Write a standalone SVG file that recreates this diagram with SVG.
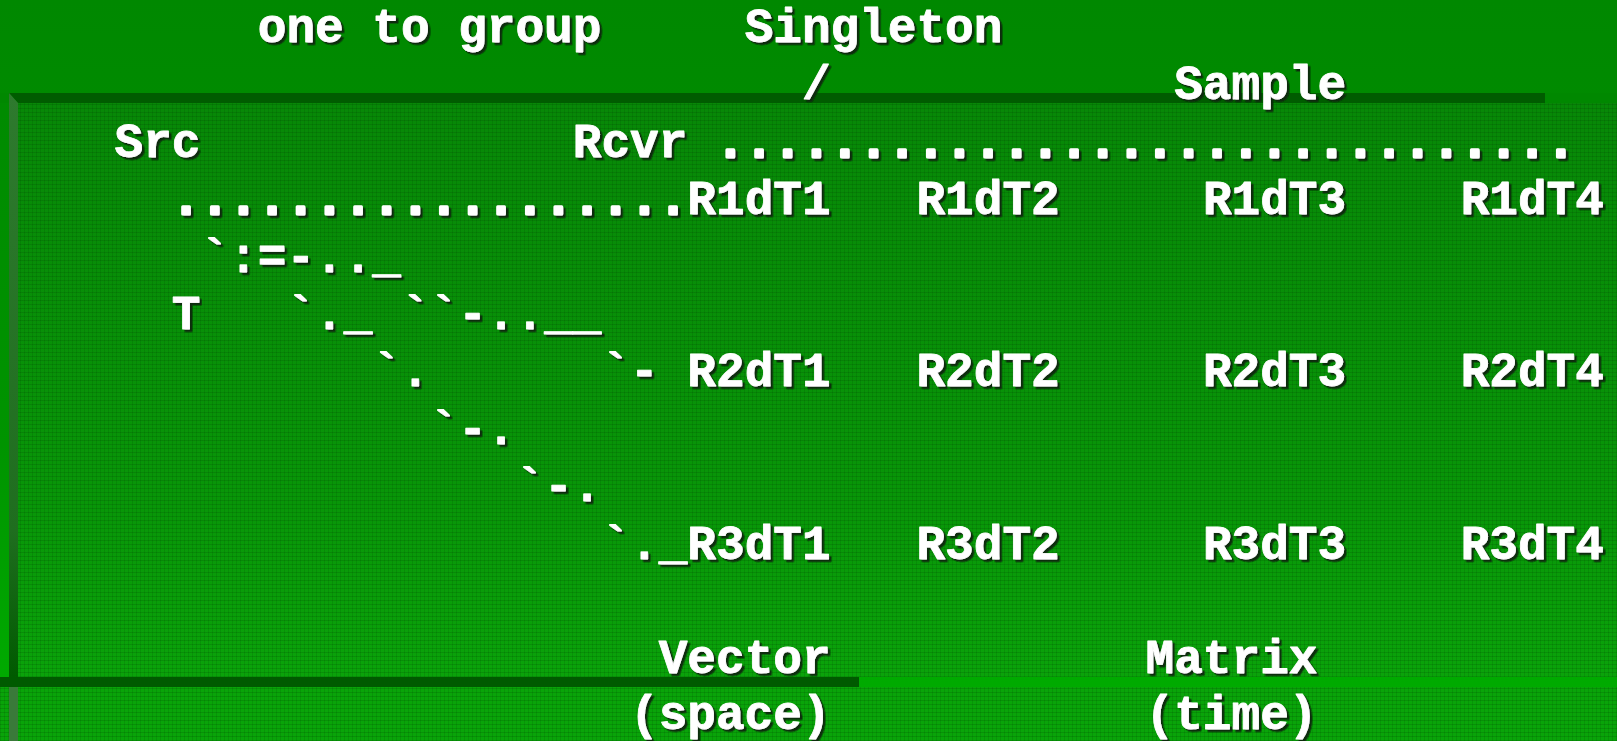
<svg xmlns="http://www.w3.org/2000/svg" width="1617" height="741" viewBox="0 0 1617 741">
<defs>
<linearGradient id="bgGrad" x1="0" y1="0" x2="0" y2="1">
<stop offset="0" stop-color="#008800"/>
<stop offset="0.6" stop-color="#009400"/>
<stop offset="1" stop-color="#00b000"/>
</linearGradient>
<linearGradient id="panelGrad" x1="0" y1="0" x2="0" y2="1">
<stop offset="0" stop-color="#078807"/>
<stop offset="0.7" stop-color="#089608"/>
<stop offset="1" stop-color="#0aa30a"/>
</linearGradient>
<linearGradient id="leftGrad" x1="0" y1="0" x2="0" y2="1">
<stop offset="0" stop-color="#2e7a2e"/>
<stop offset="0.75" stop-color="#1f6e1f"/>
<stop offset="1" stop-color="#005a00"/>
</linearGradient>
<pattern id="tex" width="4" height="4" patternUnits="userSpaceOnUse">
<rect x="0" y="0" width="4" height="1" fill="#003c00" fill-opacity="0.18"/>
<rect x="0" y="0" width="1" height="4" fill="#003c00" fill-opacity="0.14"/>
</pattern>
<filter id="sh" x="-5%" y="-20%" width="110%" height="140%">
<feDropShadow dx="2.5" dy="2.5" stdDeviation="0.4" flood-color="#0a260a" flood-opacity="0.95"/>
</filter>
</defs>
<style>
text{font-family:"Liberation Mono","Courier New",monospace;font-weight:bold;font-size:47.73px;fill:#ffffff;stroke:#ffffff;stroke-width:0.8;stroke-linejoin:round;filter:url(#sh);white-space:pre}
text.dots{stroke-width:3}
</style>
<g id="background">
<rect x="0" y="0" width="1617" height="741" fill="url(#bgGrad)"/>
<rect x="18" y="103" width="1599" height="574" fill="url(#panelGrad)"/>
<rect x="18" y="103" width="1599" height="574" fill="url(#tex)"/>
<rect x="0" y="687" width="1617" height="54" fill="#09a409"/>
<rect x="0" y="687" width="1617" height="54" fill="url(#tex)"/>
<rect x="0" y="93" width="1617" height="10" fill="#008800"/>
<polygon points="9,93 1545,93 1545,103 18,103" fill="#005c00"/>
<polygon points="9,93 18,103 18,677 9,677" fill="url(#leftGrad)"/>
<rect x="9" y="687" width="9" height="54" fill="#3a7a3a"/>
<rect x="0" y="677" width="859" height="10" fill="#005a00"/>
</g>
<g id="titles">
<text x="257.76" y="42">one to group</text>
<text x="744.64" y="42">Singleton</text>
<text x="801.92" y="99.4">/</text>
<text x="1174.24" y="99.4">Sample</text>
</g>
<g id="connectors">
<text class="dots" x="716" y="156.8">..............................</text>
<text class="dots" x="171.84" y="214.2">..................</text>
<text x="200.48" y="271.6">`:=-.._</text>
<text x="286.4" y="329">`._</text>
<text x="400.96" y="329">``-..__</text>
<text x="372.32" y="386.4">`.</text>
<text x="601.44" y="386.4">`-</text>
<text x="429.6" y="443.8">`-.</text>
<text x="515.52" y="501.2">`-.</text>
<text x="601.44" y="558.6">`._</text>
</g>
<g id="node-Src"><text x="114.56" y="156.8">Src</text></g>
<g id="node-Rcvr"><text x="572.8" y="156.8">Rcvr</text></g>
<g id="node-T"><text x="171.84" y="329">T</text></g>
<g id="node-R1dT1"><text x="687.36" y="214.2">R1dT1</text></g>
<g id="node-R1dT2"><text x="916.48" y="214.2">R1dT2</text></g>
<g id="node-R1dT3"><text x="1202.88" y="214.2">R1dT3</text></g>
<g id="node-R1dT4"><text x="1460.64" y="214.2">R1dT4</text></g>
<g id="node-R2dT1"><text x="687.36" y="386.4">R2dT1</text></g>
<g id="node-R2dT2"><text x="916.48" y="386.4">R2dT2</text></g>
<g id="node-R2dT3"><text x="1202.88" y="386.4">R2dT3</text></g>
<g id="node-R2dT4"><text x="1460.64" y="386.4">R2dT4</text></g>
<g id="node-R3dT1"><text x="687.36" y="558.6">R3dT1</text></g>
<g id="node-R3dT2"><text x="916.48" y="558.6">R3dT2</text></g>
<g id="node-R3dT3"><text x="1202.88" y="558.6">R3dT3</text></g>
<g id="node-R3dT4"><text x="1460.64" y="558.6">R3dT4</text></g>
<g id="node-Vector">
<text x="658.72" y="673.4">Vector</text>
<text x="630.08" y="729">(space)</text>
</g>
<g id="node-Matrix">
<text x="1145.6" y="673.4">Matrix</text>
<text x="1145.6" y="729">(time)</text>
</g>
</svg>
